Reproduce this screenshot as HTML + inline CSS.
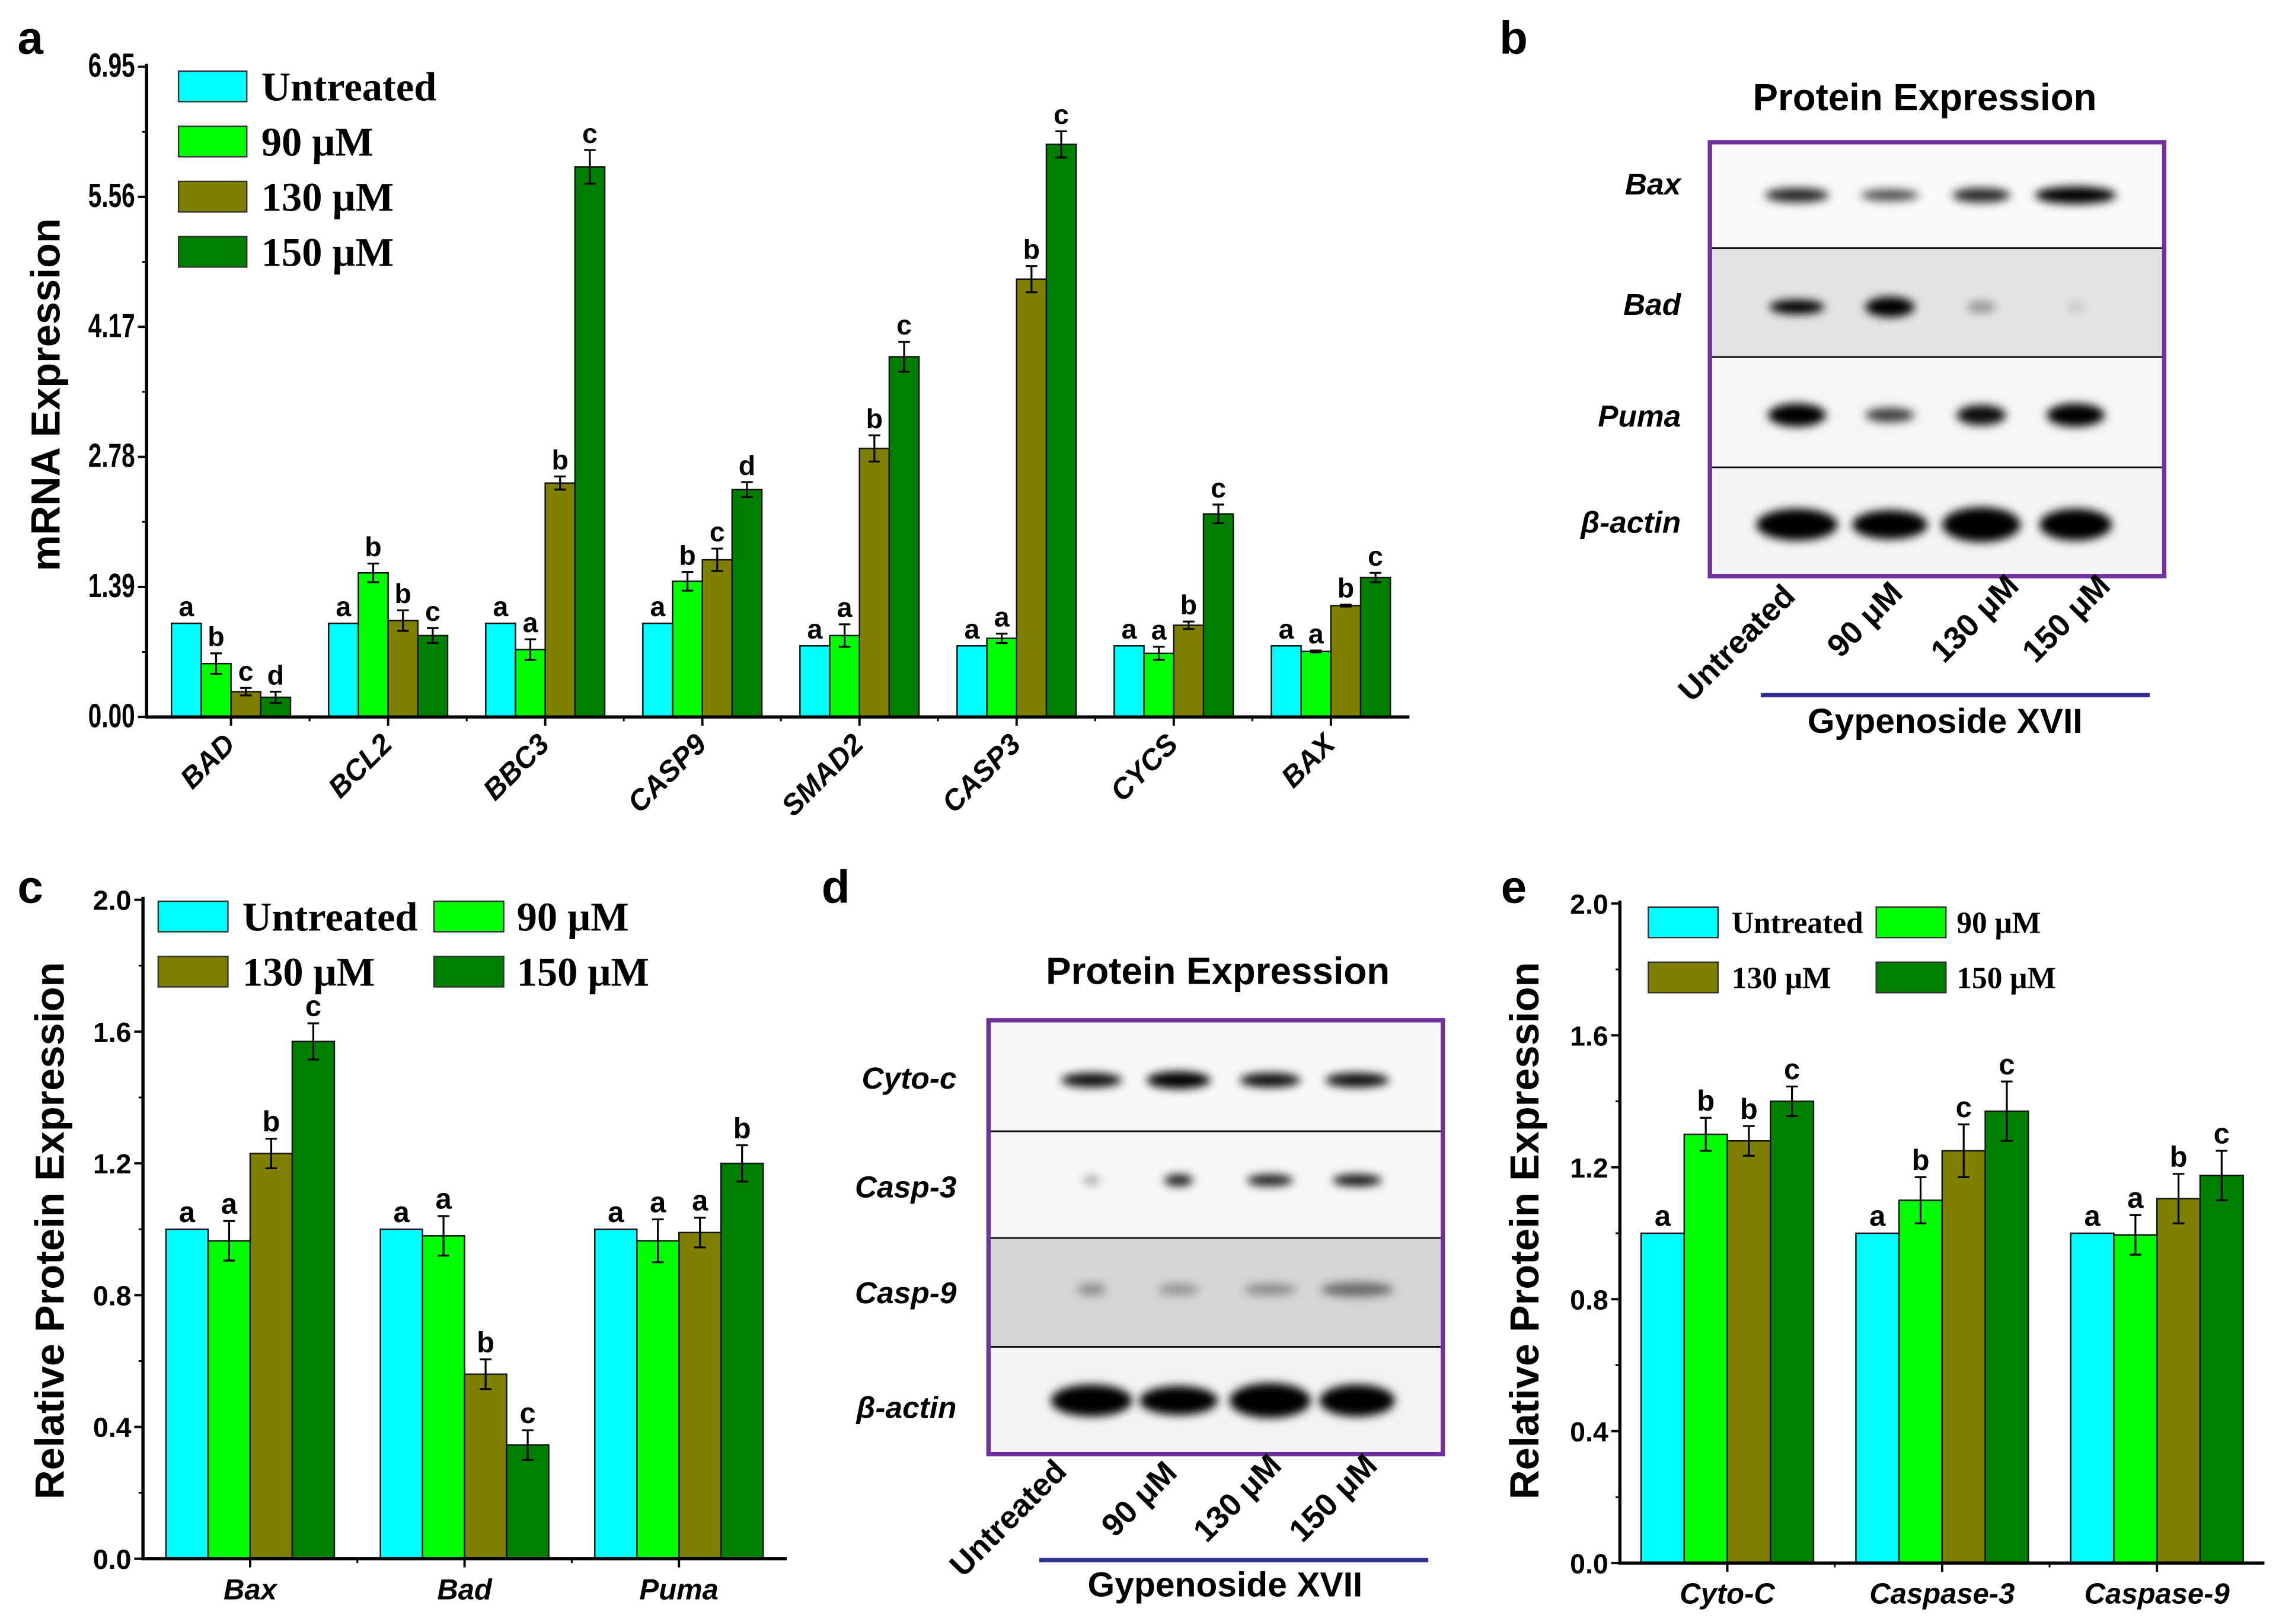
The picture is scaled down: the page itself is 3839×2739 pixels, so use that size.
<!DOCTYPE html>
<html><head><meta charset="utf-8">
<style>
html,body{margin:0;padding:0;background:#fff;}
svg{display:block;}
</style></head>
<body>
<svg id="fig" xmlns="http://www.w3.org/2000/svg" width="3839" height="2739" viewBox="0 0 1568 1119" preserveAspectRatio="none">
<defs>
<filter id="blur" x="-50%" y="-100%" width="200%" height="300%"><feGaussianBlur stdDeviation="3.2"/></filter>
</defs>
<rect width="1568" height="1119" fill="#fff"/>
<g id="root"></g>
</svg>
<script>
// ---------- Panel a data ----------
const aCats=["BAD","BCL2","BBC3","CASP9","SMAD2","CASP3","CYCS","BAX"];
const aUntreated=[1.0,1.0,1.0,1.0,0.76,0.76,0.76,0.76];
const a90=[0.57,1.54,0.72,1.45,0.87,0.84,0.68,0.70];
const a130=[0.27,1.03,2.50,1.68,2.87,4.68,0.98,1.19];
const a150=[0.21,0.87,5.88,2.43,3.85,6.12,2.17,1.49];
const aErrU=[0,0,0,0,0,0,0,0];
const aErr90=[0.11,0.10,0.11,0.10,0.12,0.05,0.07,0.01];
const aErr130=[0.04,0.11,0.07,0.12,0.14,0.14,0.04,0.01];
const aErr150=[0.06,0.08,0.18,0.08,0.16,0.14,0.10,0.05];
const aLetU=["a","a","a","a","a","a","a","a"];
const aLet90=["b","b","a","b","a","a","a","a"];
const aLet130=["c","b","b","c","b","b","b","b"];
const aLet150=["d","c","c","d","c","c","c","c"];
const aTicks=[0,1.39,2.78,4.17,5.56,6.95];
const aTickLabels=["0.00","1.39","2.78","4.17","5.56","6.95"];

// ---------- Panel c data ----------
const cCats=["Bax","Bad","Puma"];
const cUntreated=[1.0,1.0,1.0];
const c90=[0.965,0.98,0.965];
const c130=[1.23,0.56,0.99];
const c150=[1.57,0.345,1.20];
const cErrU=[0,0,0];
const cErr90=[0.06,0.06,0.065];
const cErr130=[0.045,0.045,0.045];
const cErr150=[0.055,0.045,0.055];
const cLetU=["a","a","a"];
const cLet90=["a","a","a"];
const cLet130=["b","b","a"];
const cLet150=["c","c","b"];
const cTicks=[0,0.4,0.8,1.2,1.6,2.0];
const cTickLabels=["0.0","0.4","0.8","1.2","1.6","2.0"];

// ---------- Panel e data ----------
const eCats=["Cyto-C","Caspase-3","Caspase-9"];
const eUntreated=[1.0,1.0,1.0];
const e90=[1.30,1.10,0.995];
const e130=[1.28,1.25,1.105];
const e150=[1.40,1.37,1.175];
const eErrU=[0,0,0];
const eErr90=[0.05,0.07,0.06];
const eErr130=[0.045,0.08,0.075];
const eErr150=[0.045,0.09,0.075];
const eLetU=["a","a","a"];
const eLet90=["b","b","a"];
const eLet130=["b","c","b"];
const eLet150=["c","c","c"];
const eTicks=[0,0.4,0.8,1.2,1.6,2.0];
const eTickLabels=["0.0","0.4","0.8","1.2","1.6","2.0"];

const seriesNames=["Untreated","90 μM","130 μM","150 μM"];
const COLORS=["#00ffff","#00ff00","#808000","#008000"];
const NS="http://www.w3.org/2000/svg";
const root=document.getElementById('root');
function mk(tag,attrs,parent,text){const e=document.createElementNS(NS,tag);for(const k in attrs)e.setAttribute(k,attrs[k]);if(text!==undefined)e.textContent=text;(parent||root).appendChild(e);return e;}
const SANS='"Liberation Sans", Arial, sans-serif';
const SERIF='"Liberation Serif", "Times New Roman", serif';

function barChart(o){
  const g=mk('g',{});
  
  
  const n=o.cats.length, gw=(o.gx1-o.gx0)/n;
  const ys=v=>o.y0-(v/o.ymax)*(o.y0-o.y1);
  const cx=i=>o.gx0+(i+0.5)*gw;
  for(let s=0;s<4;s++){
    for(let i=0;i<n;i++){
      const v=o.vals[s][i], x=cx(i)-2*o.bw+s*o.bw, y=ys(v);
      const r=mk('rect',{x:x,y:y,width:o.bw,height:o.y0-y,fill:COLORS[s],stroke:'#111','stroke-width':1},g);
      
      
      const e=o.errs[s][i], bx=x+o.bw/2;
      let top=y;
      if(e>0){
        top=ys(v+e);
        const eb=mk('path',{d:`M${bx},${ys(v+e)}V${ys(v-e)}M${bx-4},${ys(v+e)}H${bx+4}M${bx-4},${ys(v-e)}H${bx+4}`,stroke:'#000','stroke-width':1.3,fill:'none'},g);
        
        
      }
      const t=mk('text',{x:bx,y:top-5,'text-anchor':'middle','font-family':SANS,'font-weight':'bold','font-size':o.letSize},g,o.lets[s][i]);
      
      
    }
  }
  const ax=mk('path',{d:`M${o.ax},${o.y1-2}V${o.y0}H${o.axr}`,stroke:'#000','stroke-width':2.2,fill:'none'},g);
  
  
  for(let k=0;k<o.ticks.length;k++){
    const y=ys(o.ticks[k]);
    mk('line',{x1:o.ax-6,x2:o.ax,y1:y,y2:y,stroke:'#000','stroke-width':1.6},g);
    const tl=mk('text',{x:o.ax-8,y:y+7,'text-anchor':'end','font-family':SANS,'font-weight':'bold','font-size':o.tickSize},g,o.tickLabels[k]);
    if(o.narrow) tl.setAttribute('transform',`translate(${o.ax-8},0) scale(0.72,1) translate(${-(o.ax-8)},0)`);
    
    
    if(k<o.ticks.length-1){
      const ym=ys((o.ticks[k]+o.ticks[k+1])/2);
      mk('line',{x1:o.ax-3,x2:o.ax,y1:ym,y2:ym,stroke:'#000','stroke-width':1.2},g);
    }
  }
  for(let i=0;i<n;i++){
    mk('line',{x1:cx(i),x2:cx(i),y1:o.y0,y2:o.y0+6,stroke:'#000','stroke-width':1.6},g);
    if(i>0) mk('line',{x1:o.gx0+i*gw,x2:o.gx0+i*gw,y1:o.y0,y2:o.y0+3,stroke:'#000','stroke-width':1.2},g);
    let t;
    if(o.rot){
      t=mk('text',{x:cx(i)+4,y:o.y0+20,'text-anchor':'end','font-family':SANS,'font-weight':'bold','font-style':'italic','font-size':o.catSize,transform:`rotate(-45 ${cx(i)+4} ${o.y0+20})`},g,o.cats[i]);
    } else {
      t=mk('text',{x:cx(i),y:o.y0+28,'text-anchor':'middle','font-family':SANS,'font-weight':'bold','font-style':'italic','font-size':o.catSize},g,o.cats[i]);
    }
    
    
  }
  const yt=mk('text',{x:o.titleX,y:o.titleY,'text-anchor':'middle','font-family':SANS,'font-weight':'bold','font-size':o.titleSize,transform:`rotate(-90 ${o.titleX} ${o.titleY})`},g,o.title);
  
  
  const lg=mk('g',{},g);
  
  
  for(let s=0;s<4;s++){
    const p=o.leg[s];
    mk('rect',{x:p[0],y:p[1],width:o.legW,height:o.legH,fill:COLORS[s],stroke:'#333','stroke-width':1},lg);
    const t=mk('text',{x:p[2],y:p[1]+o.legH/2+o.legFont*0.35,'font-family':SERIF,'font-weight':'bold','font-size':o.legFont},lg,seriesNames[s]);
    
    
  }
}

barChart({name:'mrna-chart',cats:aCats,vals:[aUntreated,a90,a130,a150],errs:[aErrU,aErr90,aErr130,aErr150],lets:[aLetU,aLet90,aLet130,aLet150],
  ticks:aTicks,tickLabels:aTickLabels,ymax:6.95,y0:494,y1:46,ax:101,axr:971,gx0:105,gx1:971,bw:20.5,letSize:19,tickSize:23,narrow:true,catSize:20,rot:true,
  title:'mRNA Expression',titleX:41,titleY:272,titleSize:28,
  leg:[[123,49,180],[123,87,180],[123,125,180],[123,163,180]],legW:47,legH:21,legFont:28});

barChart({name:'protein-chart-c',cats:cCats,vals:[cUntreated,c90,c130,c150],errs:[cErrU,cErr90,cErr130,cErr150],lets:[cLetU,cLet90,cLet130,cLet150],
  ticks:cTicks,tickLabels:cTickLabels,ymax:2.0,y0:1074,y1:620,ax:98.5,axr:542,gx0:98.5,gx1:541.6,bw:29,letSize:20,tickSize:19,catSize:20,rot:false,
  title:'Relative Protein Expression',titleX:44,titleY:848,titleSize:28,
  leg:[[109,621,167],[299,621,356],[109,659,167],[299,659,356]],legW:48,legH:21,legFont:28});

barChart({name:'protein-chart-e',cats:eCats,vals:[eUntreated,e90,e130,e150],errs:[eErrU,eErr90,eErr130,eErr150],lets:[eLetU,eLet90,eLet130,eLet150],
  ticks:eTicks,tickLabels:eTickLabels,ymax:2.0,y0:1077,y1:622.5,ax:1116,axr:1560,gx0:1116,gx1:1560,bw:29.7,letSize:20,tickSize:19,catSize:20,rot:false,
  title:'Relative Protein Expression',titleX:1060,titleY:848,titleSize:28,
  leg:[[1135.6,625,1193],[1292.6,625,1348],[1135.6,663,1193],[1292.6,663,1348]],legW:48,legH:21,legFont:21});

[["a",12,37],["b",1033,37],["c",12,622],["d",566,622],["e",1034,622]].forEach(p=>{
  const t=mk('text',{x:p[1],y:p[2],'font-family':SANS,'font-weight':'bold','font-size':32},root,p[0]);
  
  
});

function blot(o){
  const g=mk('g',{});
  
  
  const tt=mk('text',{x:o.tx,y:o.ty,'text-anchor':'middle','font-family':SANS,'font-weight':'bold','font-size':26},g,'Protein Expression');
  
  
  const ys=[o.y0].concat(o.divs).concat([o.y1]);
  for(let r=0;r<4;r++){
    mk('rect',{x:o.x0,y:ys[r],width:o.x1-o.x0,height:ys[r+1]-ys[r],fill:o.bg[r]},g);
    const cy=(ys[r]+ys[r+1])/2+o.bandOff[r];
    for(let l=0;l<4;l++){
      const b=o.bands[r][l];
      if(b[1]<=0)continue;
      const band=mk('ellipse',{cx:o.lanes[l],cy:cy,rx:b[0],ry:b[2],fill:'#000','fill-opacity':b[1],filter:'url(#blur)'},g);
      
      
    }
    const lab=mk('text',{x:o.labX,y:o.labY[r],'text-anchor':'end','font-family':SANS,'font-weight':'bold','font-style':'italic','font-size':21},g,o.rows[r]);
    
    
  }
  o.divs.forEach(d=>mk('line',{x1:o.x0,x2:o.x1,y1:d,y2:d,stroke:'#111','stroke-width':1.2},g));
  const fr=mk('rect',{x:o.x0,y:o.y0,width:o.x1-o.x0,height:o.y1-o.y0,fill:'none',stroke:'#7030a0','stroke-width':3},g);
  
  
  for(let l=0;l<4;l++){
    const p=o.laneEnds[l];
    const t=mk('text',{x:p[0],y:p[1],'text-anchor':'end','font-family':SANS,'font-weight':'bold','font-size':22,transform:`rotate(-45 ${p[0]} ${p[1]})`},g,seriesNames[l]);
    
    
  }
  mk('line',{x1:o.lx0,x2:o.lx1,y1:o.ly,y2:o.ly,stroke:'#2e3192','stroke-width':3},g);
  const gt=mk('text',{x:o.gx,y:o.gy,'text-anchor':'middle','font-family':SANS,'font-weight':'bold','font-size':24},g,'Gypenoside XVII');
  
  
}

blot({name:'western-blot-b',tx:1326,ty:76,x0:1178,x1:1491,y0:98,y1:397,divs:[171,246,322],
  bg:['#f9f9f9','#e3e3e3','#f6f6f6','#f4f4f4'],bandOff:[0,3,2,2],
  lanes:[1238,1302,1365,1430],
  bands:[[[22,0.85,5],[20,0.7,4],[20,0.85,5],[28,1,6]],
         [[19,1,5],[17,1,7],[10,0.35,4],[6,0.15,3]],
         [[20,1,8],[17,0.75,5],[17,0.95,7],[20,1,8]],
         [[28,1,11],[26,1,10],[27,1,12],[25,1,11]]],
  rows:['Bax','Bad','Puma','β-actin'],labX:1158,labY:[134,217,294,367],
  laneEnds:[[1238,412],[1312,410],[1392,405],[1455,405]],lx0:1213,lx1:1481,ly:479,gx:1340,gy:505});

blot({name:'western-blot-d',tx:839,ty:678,x0:681,x1:994,y0:703,y1:1002,divs:[779.5,853,928],
  bg:['#f8f8f8','#f7f7f7','#d5d5d5','#f3f3f3'],bandOff:[3,-3,-2,0],
  lanes:[752,812,875,935],
  bands:[[[21,0.95,5],[22,1,6],[21,0.95,5],[22,0.95,5]],
         [[6,0.35,3],[10,0.9,4],[16,0.9,4],[17,0.95,4]],
         [[10,0.35,4],[14,0.3,4],[18,0.35,4],[25,0.5,5]],
         [[28,1,11],[27,1,10],[28,1,12],[26,1,11]]],
  rows:['Cyto-c','Casp-3','Casp-9','β-actin'],labX:659,labY:[750,825,898,977],
  laneEnds:[[736,1015],[812,1016],[884,1011],[950,1011]],lx0:716,lx1:984,ly:1075,gx:844,gy:1100});
</script>
</body></html>
